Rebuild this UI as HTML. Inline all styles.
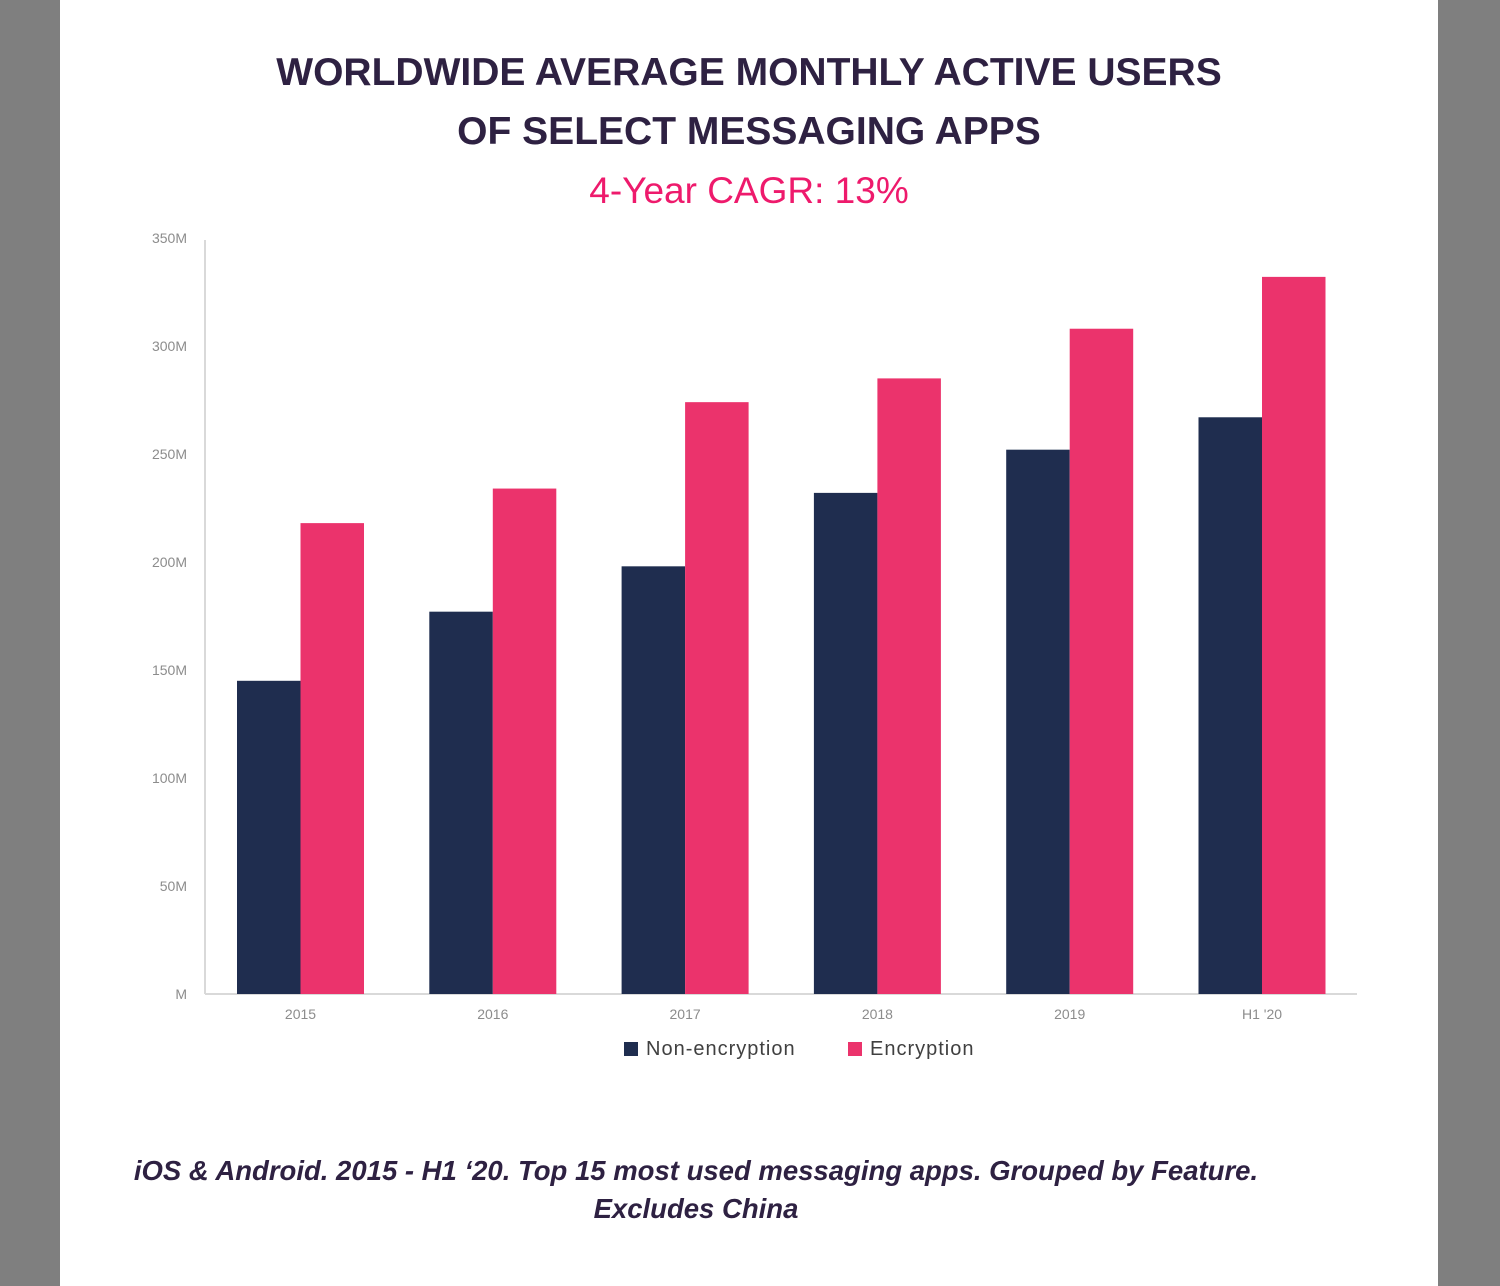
<!DOCTYPE html>
<html><head><meta charset="utf-8"><style>
html,body{margin:0;padding:0;width:1500px;height:1286px;background:#7f7f7f;overflow:hidden;font-family:"Liberation Sans",sans-serif}
#panel{position:absolute;left:60px;top:0;width:1378px;height:1286px;background:#fff}
</style></head><body>
<div id="panel"></div>
<svg id="chart" width="1500" height="1286" style="position:absolute;left:0;top:0">
<text x="749" y="85" text-anchor="middle" font-size="39" font-weight="bold" fill="#2e2142">WORLDWIDE AVERAGE MONTHLY ACTIVE USERS</text>
<text x="749" y="144" text-anchor="middle" font-size="39" font-weight="bold" fill="#2e2142">OF SELECT MESSAGING APPS</text>
<text x="749" y="203" text-anchor="middle" font-size="37" fill="#ee1a6c">4-Year CAGR: 13%</text>
<line x1="205" y1="240" x2="205" y2="994" stroke="#d9d9d9" stroke-width="2"/>
<line x1="205" y1="994" x2="1357" y2="994" stroke="#d9d9d9" stroke-width="2"/>
<g id="bars"></g>
<rect x="624" y="1042" width="14" height="14" fill="#1f2d4f"/>
<text x="646" y="1055" font-size="20" letter-spacing="1" fill="#404040">Non-encryption</text>
<rect x="848" y="1042" width="14" height="14" fill="#eb336c"/>
<text x="870" y="1055" font-size="20" letter-spacing="1" fill="#404040">Encryption</text>
<text x="696" y="1180" text-anchor="middle" font-size="27.5" font-weight="bold" font-style="italic" fill="#2e2142">iOS &amp; Android. 2015 - H1 ‘20. Top 15 most used messaging apps. Grouped by Feature.</text>
<text x="696" y="1218" text-anchor="middle" font-size="27.5" font-weight="bold" font-style="italic" fill="#2e2142">Excludes China</text>
</svg>
<script>
const categories=["2015","2016","2017","2018","2019","H1 '20"];
const nonEncryption=[145,177,198,232,252,267];
const encryption=[218,234,274,285,308,332];
const yTicks=[0,50,100,150,200,250,300,350];
const yTickLabels=["M","50M","100M","150M","200M","250M","300M","350M"];
const NS="http://www.w3.org/2000/svg";
const g=document.getElementById('bars');
const y0=994,pxPerM=(994-238)/350;
const yScale=v=>y0-v*pxPerM;
const xLeft=205,groupW=192.3;
const xGroup=i=>xLeft+i*groupW;
function mk(tag,attrs){const e=document.createElementNS(NS,tag);for(const k in attrs)e.setAttribute(k,attrs[k]);g.appendChild(e);return e;}
yTicks.forEach((t,i)=>{
  const e=mk('text',{x:187,y:yScale(t)+5,'text-anchor':'end','font-size':14,fill:'#8c8c8c'});
  e.textContent=yTickLabels[i];
  
  
});
categories.forEach((c,i)=>{
  const gx=xGroup(i);
  const b1=mk('rect',{x:gx+32,y:yScale(nonEncryption[i]),width:63.5,height:y0-yScale(nonEncryption[i]),fill:'#1f2d4f'});
  
  
  const b2=mk('rect',{x:gx+95.5,y:yScale(encryption[i]),width:63.5,height:y0-yScale(encryption[i]),fill:'#eb336c'});
  
  
  const t=mk('text',{x:gx+95.5,y:1019,'text-anchor':'middle','font-size':14,fill:'#8c8c8c'});
  t.textContent=c;
  
  
});
</script>
</body></html>
